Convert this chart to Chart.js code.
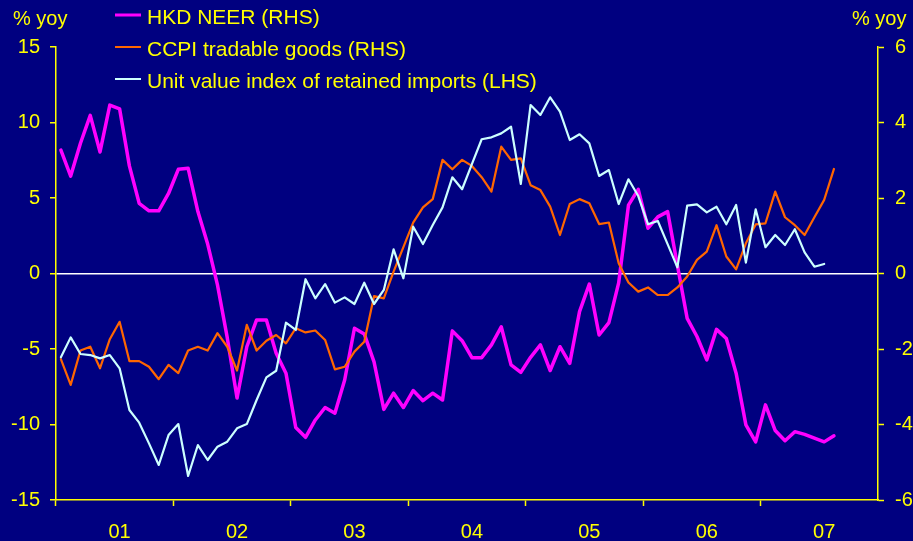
<!DOCTYPE html>
<html><head><meta charset="utf-8">
<script src="https://cdn.jsdelivr.net/npm/chart.js@4.4.0/dist/chart.umd.min.js"></script>
<style>html,body{margin:0;padding:0;background:#000080;}canvas{display:block;}</style>
</head><body>
<canvas id="c" width="913" height="541"></canvas>
<script>
// ---- data ----
const yearLabels = ['01','02','03','04','05','06','07'];
const monthNames = ['Jan','Feb','Mar','Apr','May','Jun','Jul','Aug','Sep','Oct','Nov','Dec'];
const categories = [];
yearLabels.forEach(y => monthNames.forEach(m => categories.push(m + ' ' + y)));

const hkdNeer = [3.27,2.58,3.45,4.19,3.22,4.46,4.36,2.85,1.86,1.66,1.66,2.12,2.76,2.79,1.64,0.78,
  -0.3,-1.7,-3.3,-1.94,-1.23,-1.23,-2.11,-2.64,
  -4.08,-4.34,-3.88,-3.55,-3.7,-2.82,-1.45,-1.6,-2.34,-3.6,-3.17,-3.55,-3.1,-3.37,-3.17,-3.35,
  -1.52,-1.78,-2.23,-2.23,-1.89,-1.41,-2.42,-2.62,-2.22,-1.89,-2.57,-1.94,-2.38,-1.01,-0.28,
  -1.63,-1.3,-0.25,1.81,2.23,1.2,1.5,1.64,
  0.22,-1.19,-1.67,-2.29,-1.48,-1.72,-2.64,-4.01,-4.46,-3.48,-4.16,-4.43,-4.19,-4.26,-4.36,-4.46,-4.3];

const ccpiTradable = [-2.27,-2.95,-2.04,-1.94,-2.51,-1.74,-1.28,-2.32,-2.32,-2.47,-2.8,-2.42,-2.64,-2.04,-1.94,-2.04,
  -1.58,-1.94,-2.57,-1.36,-2.04,-1.78,-1.63,-1.85,
  -1.45,-1.56,-1.51,-1.76,-2.54,-2.47,-2.07,-1.81,-0.6,-0.66,
  0.05,0.7,1.35,1.75,1.97,3.01,2.76,3.01,2.85,2.55,2.17,3.36,3.01,3.05,2.34,2.21,1.77,1.02,1.84,1.97,1.86,
  1.31,1.35,0.27,-0.24,-0.48,-0.37,-0.57,-0.57,-0.37,-0.08,0.36,0.58,1.28,0.45,0.11,0.8,1.3,1.33,2.17,1.49,1.28,1.02,1.49,1.95,2.77];

const unitValue = [-5.55,-4.23,-5.33,-5.4,-5.62,-5.4,-6.28,-9.04,-9.88,-11.25,-12.68,-10.7,-9.97,-13.41,-11.36,-12.35,
  -11.47,-11.14,-10.25,-9.97,-8.38,-6.88,-6.44,-3.26,-3.74,
  -0.38,-1.64,-0.7,-1.93,-1.58,-2.02,-0.61,-2.02,-1.09,
  1.6,-0.32,3.1,1.95,3.21,4.38,6.37,5.58,7.25,8.89,9.02,9.28,9.72,5.93,11.16,10.5,11.67,10.72,8.84,9.22,8.62,
  6.46,6.85,4.6,6.24,5.13,3.26,3.48,1.95,0.41,4.49,4.58,4.05,4.42,3.26,4.54,0.72,4.25,1.74,2.55,1.89,2.93,1.4,0.45,0.63];

const leftTicks = [-15,-10,-5,0,5,10,15];
const rightTicks = [-6,-4,-2,0,2,4,6];
const axisTitle = '% yoy';

// ---- styling ----
const YELLOW = '#ffff00';
const FONT = '"Liberation Sans", Arial, sans-serif';

const bgPlugin = {
  id: 'bg',
  beforeDraw(chart) {
    const c = chart.ctx;
    c.save();
    c.fillStyle = '#000080';
    c.fillRect(0, 0, chart.width, chart.height);
    c.restore();
  }
};

const legendPlugin = {
  id: 'customLegend',
  afterDraw(chart) {
    const c = chart.ctx;
    c.save();
    c.font = '21px ' + FONT;
    c.textBaseline = 'alphabetic';
    c.textAlign = 'left';
    chart.data.datasets.forEach((ds, k) => {
      const y = 15 + k * 32;
      c.strokeStyle = ds.borderColor;
      c.lineWidth = ds.legendWidth;
      c.beginPath();
      c.moveTo(115, y);
      c.lineTo(141, y);
      c.stroke();
      c.fillStyle = YELLOW;
      c.fillText(ds.label, 147, y + 9);
    });
    c.font = '20px ' + FONT;
    c.fillStyle = YELLOW;
    c.fillText(axisTitle, 13, 25);
    c.fillText(axisTitle, 852, 25);
    c.restore();
  }
};

new Chart(document.getElementById('c'), {
  type: 'line',
  data: {
    labels: categories,
    datasets: [
      { label: 'HKD NEER (RHS)', data: hkdNeer, yAxisID: 'y2', borderColor: '#ff00ff', borderWidth: 3.5, legendWidth: 3, order: 2 },
      { label: 'CCPI tradable goods (RHS)', data: ccpiTradable, yAxisID: 'y2', borderColor: '#ff6600', borderWidth: 2.2, legendWidth: 2, order: 1 },
      { label: 'Unit value index of retained imports (LHS)', data: unitValue, yAxisID: 'y', borderColor: '#ccffff', borderWidth: 2.2, legendWidth: 2, order: 0 }
    ].map(d => Object.assign({ pointRadius: 0, tension: 0, fill: false, borderJoinStyle: 'round', borderCapStyle: 'round' }, d))
  },
  options: {
    responsive: false,
    animation: false,
    layout: { padding: { top: 47, left: 0, right: 0, bottom: 0 } },
    plugins: { legend: { display: false }, tooltip: { enabled: false } },
    scales: {
      x: {
        type: 'category',
        offset: true,
        afterFit(s) { s.height = 41; },
        border: { color: YELLOW, width: 1.5 },
        grid: {
          offset: true,
          drawOnChartArea: false,
          drawTicks: true,
          tickLength: 6,
          tickWidth: 1.5,
          color: ctx => (ctx.index !== undefined && ctx.index % 12 === 0) ? YELLOW : 'transparent',
          tickColor: ctx => (ctx.index !== undefined && ctx.index % 12 === 0) ? YELLOW : 'transparent'
        },
        ticks: {
          autoSkip: false,
          maxRotation: 0,
          minRotation: 0,
          padding: 14,
          color: YELLOW,
          font: { family: FONT, size: 20 },
          callback: (v, i) => (i % 12 === 6) ? yearLabels[Math.floor(i / 12)] : ''
        }
      },
      y: {
        position: 'left',
        min: leftTicks[0],
        max: leftTicks[leftTicks.length - 1],
        afterFit(s) { s.width = 56; },
        afterBuildTicks(s) { s.ticks = leftTicks.map(v => ({ value: v })); },
        border: { color: YELLOW, width: 1.5 },
        grid: {
          drawOnChartArea: true,
          tickLength: 6,
          tickWidth: 1.5,
          tickColor: YELLOW,
          lineWidth: 1.5,
          color: ctx => (ctx.tick && ctx.tick.value === 0) ? '#ffffff' : 'transparent'
        },
        ticks: { color: YELLOW, padding: 10, font: { family: FONT, size: 20 } }
      },
      y2: {
        position: 'right',
        min: rightTicks[0],
        max: rightTicks[rightTicks.length - 1],
        afterFit(s) { s.width = 35; },
        afterBuildTicks(s) { s.ticks = rightTicks.map(v => ({ value: v })); },
        border: { color: YELLOW, width: 1.5 },
        grid: { drawOnChartArea: false, tickLength: 6, tickWidth: 1.5, tickColor: YELLOW },
        ticks: { color: YELLOW, padding: 11, font: { family: FONT, size: 20 } }
      }
    }
  },
  plugins: [bgPlugin, legendPlugin]
});
</script>
</body></html>
